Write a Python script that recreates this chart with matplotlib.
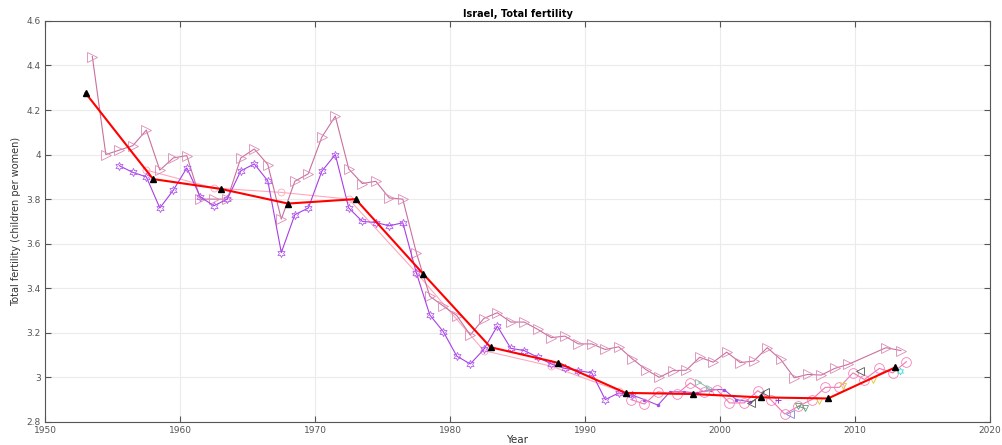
import matplotlib
matplotlib.use('Agg')
import matplotlib.pyplot as plt
from matplotlib.ticker import FormatStrFormatter

# annual estimates (triangles)
tri_years = [1953.5, 1954.5, 1955.5, 1956.5, 1957.5, 1958.5, 1959.5, 1960.5, 1961.5, 1962.5,
             1963.5, 1964.5, 1965.5, 1966.5, 1967.5, 1968.5, 1969.5, 1970.5, 1971.5, 1972.5,
             1973.5, 1974.5, 1975.5, 1976.5, 1977.5, 1978.5, 1979.5, 1980.5, 1981.5, 1982.5,
             1983.5, 1984.5, 1985.5, 1986.5, 1987.5, 1988.5, 1989.5, 1990.5, 1991.5, 1992.5,
             1993.5, 1994.5, 1995.5, 1996.5, 1997.5, 1998.5, 1999.5, 2000.5, 2001.5, 2002.5,
             2003.5, 2004.5, 2005.5, 2006.5, 2007.5, 2008.5, 2009.5, 2012.3, 2013.4]
tri_vals = [4.44, 4.00, 4.02, 4.04, 4.11, 3.93, 3.985, 3.995, 3.80, 3.80,
            3.80, 3.985, 4.025, 3.955, 3.71, 3.88, 3.914, 4.078, 4.172, 3.935,
            3.87, 3.88, 3.805, 3.80, 3.56, 3.364, 3.32, 3.277, 3.19, 3.264,
            3.29, 3.248, 3.248, 3.215, 3.178, 3.185, 3.15, 3.15, 3.125, 3.137,
            3.083, 3.035, 3.00, 3.03, 3.032, 3.09, 3.068, 3.113, 3.066, 3.073,
            3.133, 3.08, 2.998, 3.013, 3.01, 3.04, 3.058, 3.133, 3.12]

# hexagram series
hex_years = [1955.5, 1956.5, 1957.5, 1958.5, 1959.5, 1960.5, 1961.5, 1962.5, 1963.5, 1964.5,
             1965.5, 1966.5, 1967.5, 1968.5, 1969.5, 1970.5, 1971.5, 1972.5, 1973.5, 1974.5,
             1975.5, 1976.5, 1977.5, 1978.5, 1979.5, 1980.5, 1981.5, 1982.5, 1983.5, 1984.5,
             1985.5, 1986.5, 1987.5, 1988.5, 1989.5, 1990.5, 1991.5, 1992.5, 1993.5]
hex_vals = [3.95, 3.92, 3.90, 3.76, 3.84, 3.94, 3.81, 3.77, 3.80, 3.927,
            3.958, 3.882, 3.56, 3.73, 3.76, 3.925, 4.00, 3.76, 3.70, 3.695,
            3.68, 3.694, 3.47, 3.28, 3.205, 3.095, 3.06, 3.125, 3.23, 3.13,
            3.12, 3.09, 3.06, 3.04, 3.03, 3.02, 2.90, 2.93, 2.92]

dot_years = [1993.5, 1994.4, 1995.4, 1996.3, 1997.3, 1998.3, 1999.3, 2000.3, 2001.2, 2002.2]
dot_vals = [2.92, 2.90, 2.875, 2.935, 2.935, 2.93, 2.945, 2.945, 2.90, 2.89]

# annual circles
circ_years = [1993.4, 1994.4, 1995.4, 1996.8, 1997.8, 1998.8, 1999.75, 2000.7, 2001.8, 2002.8,
              2003.75, 2004.8, 2005.8, 2006.8, 2007.8, 2008.85, 2009.85, 2010.7, 2011.8, 2012.8,
              2013.8]
circ_vals = [2.90, 2.88, 2.935, 2.925, 2.975, 2.935, 2.945, 2.885, 2.885, 2.94,
             2.90, 2.835, 2.87, 2.90, 2.955, 2.955, 3.02, 2.99, 3.04, 3.02,
             3.07]

# five-year smoothed (thin pink)
smooth_years = [1957.5, 1962.5, 1967.5, 1972.5, 1977.5, 1982.5, 1987.5, 1992.5]
smooth_vals = [3.93, 3.85, 3.83, 3.80, 3.47, 3.12, 3.05, 2.94]

# five-year estimates (red)
est_years = [1953, 1958, 1963, 1968, 1973, 1978, 1983, 1988, 1993, 1998, 2003, 2008, 2013]
est_vals = [4.276, 3.89, 3.846, 3.78, 3.80, 3.465, 3.135, 3.065, 2.93, 2.925, 2.91, 2.905, 3.045]

# small extra series
gray_years = [2002.3, 2003.3]
gray_vals = [2.885, 2.935]
gray2_years = [2010.4]
gray2_vals = [3.03]
teal_years = [1998.4, 1999.2]
teal_vals = [2.98, 2.95]
blue_years = [2005.2]
blue_vals = [2.835]
green_years = [2005.8, 2006.3]
green_vals = [2.87, 2.86]
yellow_years = [2007.3, 2009.1, 2011.3]
yellow_vals = [2.895, 2.96, 2.99]
cyan_years = [2013.3]
cyan_vals = [3.03]
plus_years = [2004.3]
plus_vals = [2.90]

plt.rcParams['font.family'] = ['DejaVu Sans']

fig = plt.figure(figsize=(10.02, 4.45), dpi=100)
ax = fig.add_axes([0.045, 0.052, 0.943, 0.901])

hexmark = (6, 1, 0)

ax.plot(smooth_years, smooth_vals, color='#ffa8bc', lw=0.8, marker='o', ms=5,
        mfc='none', mec='#ffa8bc', mew=0.6, zorder=2)
ax.plot(tri_years, tri_vals, color='#c9709e', lw=0.8, marker='>', ms=7,
        mfc='none', mec='#dc8ab4', mew=0.6, zorder=3)
ax.plot(hex_years, hex_vals, color='#a83ee6', lw=0.8, marker=hexmark, ms=6,
        mfc='none', mec='#b560f0', mew=0.6, zorder=3)
ax.plot(dot_years, dot_vals, color='#a050e0', lw=0.8, marker='.', ms=3, zorder=3)
ax.plot(circ_years, circ_vals, color='#f078b2', lw=0.8, marker='o', ms=7,
        mfc='none', mec='#f580b8', mew=0.6, zorder=3)
ax.plot(gray_years, gray_vals, color='#555555', lw=0.7, marker='<', ms=6,
        mfc='none', mec='#555555', mew=0.6, zorder=3)
ax.plot(gray2_years, gray2_vals, ls='none', marker='<', ms=6,
        mfc='none', mec='#555555', mew=0.6, zorder=3)
ax.plot(teal_years, teal_vals, color='#8fb8a8', lw=0.7, marker='>', ms=5,
        mfc='none', mec='#8fb8a8', mew=0.6, zorder=3)
ax.plot(blue_years, blue_vals, ls='none', marker='<', ms=6,
        mfc='none', mec='#8080e0', mew=0.6, zorder=3)
ax.plot(green_years, green_vals, color='#5aa070', lw=0.7, marker='v', ms=4,
        mfc='none', mec='#5aa070', mew=0.6, zorder=3)
ax.plot(yellow_years, yellow_vals, ls='none', marker='v', ms=4,
        mfc='none', mec='#e0d040', mew=0.7, zorder=3)
ax.plot(cyan_years, cyan_vals, ls='none', marker=hexmark, ms=5,
        mfc='none', mec='#40e0d0', mew=0.6, zorder=3)
ax.plot(plus_years, plus_vals, ls='none', marker='+', ms=4,
        mec='#9040e0', mew=0.7, zorder=3)

ax.plot(est_years, est_vals, color='red', lw=1.5, marker='^', ms=4.5,
        mfc='black', mec='black', zorder=5)

ax.set_xlim(1950, 2020)
ax.set_ylim(2.8, 4.6)
ax.set_xticks(range(1950, 2021, 10))
ax.set_yticks([2.8, 3.0, 3.2, 3.4, 3.6, 3.8, 4.0, 4.2, 4.4, 4.6])
ax.yaxis.set_major_formatter(FormatStrFormatter('%g'))
ax.grid(True, color='#ebebeb', lw=0.8)
ax.set_axisbelow(True)
ax.tick_params(direction='in', length=4, width=0.8, color='#555555', labelcolor='#555555',
               labelsize=6.5, top=True, right=True, pad=3)
for s in ax.spines.values():
    s.set_color('#555555')
    s.set_linewidth(0.8)

ax.set_title('Israel, Total fertility', fontsize=7, fontweight='bold', pad=3)
ax.set_xlabel('Year', fontsize=7.5, labelpad=0, color='#333333')
ax.set_ylabel('Total fertility (children per women)', fontsize=7, labelpad=4, color='#333333')

fig.savefig('out.png', dpi=100)
